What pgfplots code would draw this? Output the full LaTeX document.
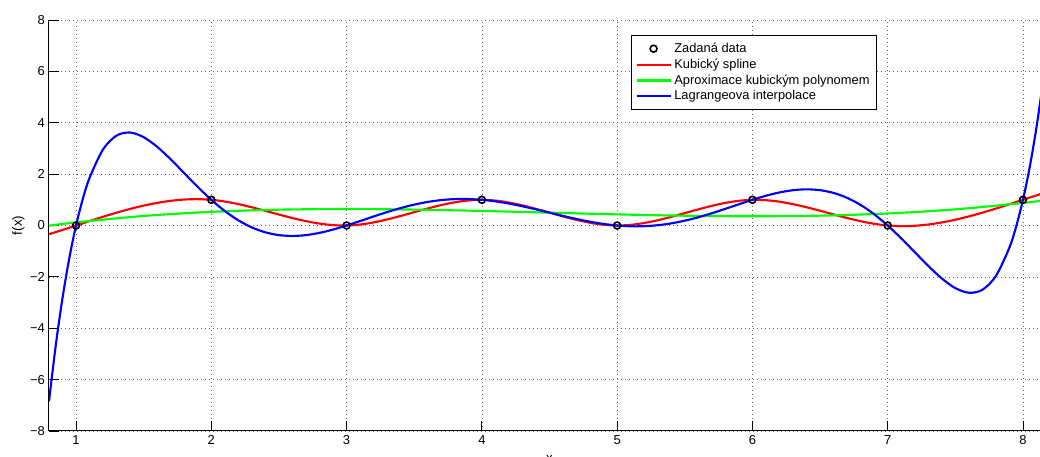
\documentclass[border=0pt]{standalone}
\usepackage{fontspec}
\setmainfont{Liberation Sans}
\usepackage{pgfplots}
\pgfplotsset{compat=1.18}
\begin{document}
\begin{tikzpicture}
\begin{axis}[
  at={(0,0)}, anchor=south west,
  scale only axis, width=743.25pt, height=308.25pt,
  xmin=0.8, xmax=8.126, ymin=-8, ymax=8,
  axis lines*=left,
  axis line style={line width=0.75pt, black},
  tick align=inside,
  major tick length=7.5pt,
  tick style={black, line width=0.6pt},
  xtick={1,2,3,4,5,6,7,8},
  ytick={-8,-6,-4,-2,0,2,4,6,8},
  yticklabels={−8,−6,−4,−2,0,2,4,6,8},
  /pgf/number format/assume math mode=true,
  grid=major,
  major grid style={black!60, line width=0.5pt, dash pattern=on 0.6pt off 2.4pt},
  tick label style={font=\fontsize{9.75}{11}\selectfont},
  yticklabel style={xshift=0.5pt},
  xlabel={x}, ylabel={f(x)},
  label style={font=\fontsize{10}{12}\selectfont},
  xlabel style={at={(axis description cs:0.505,0)}, anchor=north, yshift=-14.6pt},
  ylabel style={at={(axis description cs:0,0.5)}, anchor=center, yshift=22.9pt},
  legend style={at={(0.5873,0.9635)}, anchor=north west, draw=black, line width=0.75pt,
    fill=white, font=\fontsize{9.65}{10.5}\selectfont, inner xsep=3pt, inner ysep=3.6pt,
    row sep=-0.7pt},
  legend cell align=left,
  legend image code/.code={\draw[mark repeat=2,mark phase=2,#1] plot coordinates {(0pt,0pt) (12.75pt,0pt) (25.5pt,0pt)};},
]
\addplot[only marks, mark=o, mark size=2.6pt, mark options={line width=1.2pt, black}]
  coordinates {(1,0)(2,1)(3,0)(4,1)(5,0)(6,1)(7,0)(8,1)};
\addlegendentry{Zadaná data}
\addplot[red, line width=1.6pt, smooth] coordinates {
(0.8,-0.3405)(0.9,-0.1724)(1,0)(1.1,0.1724)(1.2,0.3405)(1.3,0.4998)(1.4,0.6459)(1.5,0.7744)(1.6,0.8810)(1.7,0.9612)(1.8,1.0107)(1.9,1.0251)(2,1)(2.1,0.9334)(2.2,0.8328)(2.3,0.7082)(2.4,0.5696)(2.5,0.4268)(2.6,0.2900)(2.7,0.1689)(2.8,0.0736)(2.9,0.0140)(3,0)(3.1,0.0381)(3.2,0.1204)(3.3,0.2355)(3.4,0.3719)(3.5,0.5183)(3.6,0.6632)(3.7,0.7953)(3.8,0.9030)(3.9,0.9751)(4,1)(4.1,0.9702)(4.2,0.8937)(4.3,0.7820)(4.4,0.6468)(4.5,0.5)(4.6,0.3532)(4.7,0.2180)(4.8,0.1063)(4.9,0.0298)(5,0)(5.1,0.0249)(5.2,0.0970)(5.3,0.2047)(5.4,0.3368)(5.5,0.4817)(5.6,0.6281)(5.7,0.7645)(5.8,0.8796)(5.9,0.9619)(6,1)(6.1,0.9860)(6.2,0.9264)(6.3,0.8311)(6.4,0.7100)(6.5,0.5732)(6.6,0.4304)(6.7,0.2918)(6.8,0.1672)(6.9,0.0666)(7,0)(7.1,-0.0251)(7.2,-0.0107)(7.3,0.0388)(7.4,0.1190)(7.5,0.2256)(7.6,0.3541)(7.7,0.5002)(7.8,0.6595)(7.9,0.8276)(8,1)(8.1,1.1724)(8.2,1.3405)};
\addlegendentry{Kubický spline}
\addplot[green, line width=1.6pt, smooth] coordinates {
(0.8,-0.0081)(1,0.1212)(1.5,0.3723)(2,0.5325)(2.5,0.6169)(3,0.6407)(3.5,0.6190)(4,0.5671)(4.5,0.5)(5,0.4329)(5.5,0.3810)(6,0.3593)(6.5,0.3831)(7,0.4675)(7.5,0.6277)(8,0.8788)(8.2,1.0081)};
\addlegendentry{Aproximace kubickým polynomem}
\addplot[blue, line width=1.6pt, smooth] coordinates {
(0.8,-6.8466)(0.85,-4.6663)(0.9,-2.8195)(0.95,-1.2752)(1,0)(1.05,1.0353)(1.1,1.8583)(1.2,2.9664)(1.3,3.5031)(1.4,3.6186)(1.5,3.4375)(1.6,3.0618)(1.7,2.5732)(1.8,2.0362)(1.9,1.4998)(2,1)(2.1,0.5616)(2.2,0.2002)(2.3,-0.0765)(2.4,-0.2672)(2.5,-0.375)(2.6,-0.4073)(2.7,-0.3739)(2.8,-0.2865)(2.9,-0.1575)(3,0)(3.1,0.1736)(3.2,0.3515)(3.3,0.5231)(3.4,0.6793)(3.5,0.8125)(3.6,0.9171)(3.7,0.9892)(3.8,1.0269)(3.9,1.0300)(4,1)(4.1,0.9399)(4.2,0.8539)(4.3,0.7477)(4.4,0.6274)(4.5,0.5)(4.6,0.3726)(4.7,0.2523)(4.8,0.1461)(4.9,0.0601)(5,0)(5.1,-0.0300)(5.2,-0.0269)(5.3,0.0108)(5.4,0.0829)(5.5,0.1875)(5.6,0.3207)(5.7,0.4769)(5.8,0.6485)(5.9,0.8264)(6,1)(6.1,1.1575)(6.2,1.2865)(6.3,1.3739)(6.4,1.4073)(6.5,1.375)(6.6,1.2672)(6.7,1.0765)(6.8,0.7998)(6.9,0.4384)(7,0)(7.1,-0.4998)(7.2,-1.0362)(7.3,-1.5732)(7.4,-2.0618)(7.5,-2.4375)(7.6,-2.6186)(7.7,-2.5031)(7.8,-1.9664)(7.9,-0.8583)(7.95,-0.0353)(8,1)(8.05,2.2752)(8.1,3.8195)(8.15,5.6663)};
\addlegendentry{Lagrangeova interpolace}
\end{axis}
\pgfresetboundingbox
\path[use as bounding box] (-36.75pt,-19.5pt) rectangle (743.25pt,323.25pt);
\end{tikzpicture}
\end{document}
